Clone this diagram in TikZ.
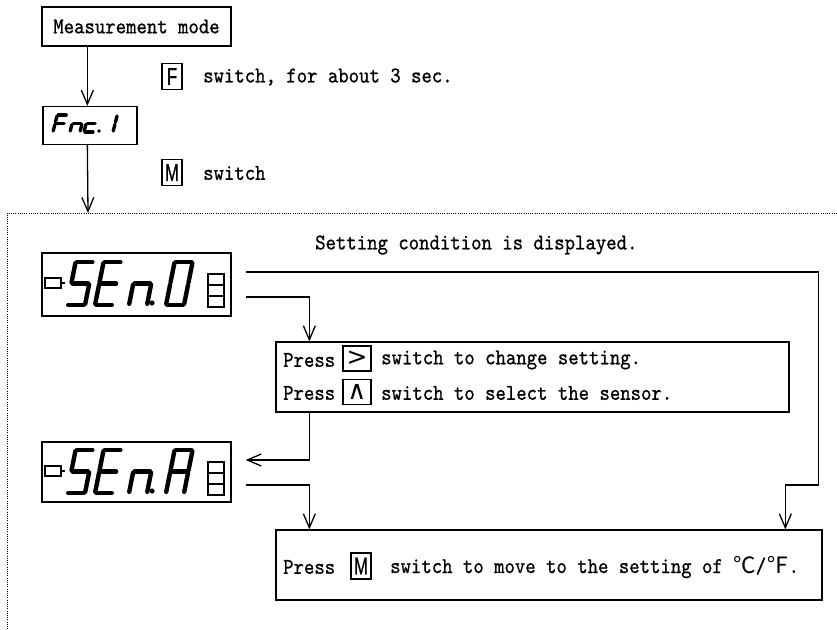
\documentclass[tikz,border=0pt]{standalone}
\usepackage{fontspec}
\usetikzlibrary{arrows.meta,calc}
\newfontfamily\txtfont{lmmono10-regular.otf}[FakeStretch=0.88, FakeBold=0.8]
\newfontfamily\keyfont{Liberation Sans}[FakeStretch=0.7, FakeBold=0.6]
\newfontfamily\symfont{DejaVu Sans}
\newfontfamily\cjkfont{Noto Sans CJK JP}

% seven-segment helpers: \dX,\dY = bottom-left corner, \dW,\dH = size,
% \dS = slant, \dG = gap at the segment joints
\def\dsega{\draw[segline] ({\dX+\dG+\dS*\dH},{\dY-\dH}) -- ({\dX+\dW-\dG+\dS*\dH},{\dY-\dH});}
\def\dsegb{\draw[segline] ({\dX+\dW+\dS*(\dH-\dG)},{\dY-\dH+\dG}) -- ({\dX+\dW+\dS*(\dH/2+\dG)},{\dY-\dH/2-\dG});}
\def\dsegc{\draw[segline] ({\dX+\dW+\dS*(\dH/2-\dG)},{\dY-\dH/2+\dG}) -- ({\dX+\dW+\dS*\dG},{\dY-\dG});}
\def\dsegd{\draw[segline] ({\dX+\dG},{\dY}) -- ({\dX+\dW-\dG},{\dY});}
\def\dsege{\draw[segline] ({\dX+\dS*\dG},{\dY-\dG}) -- ({\dX+\dS*(\dH/2-\dG)},{\dY-\dH/2+\dG});}
\def\dsegf{\draw[segline] ({\dX+\dS*(\dH/2+\dG)},{\dY-\dH/2-\dG}) -- ({\dX+\dS*(\dH-\dG)},{\dY-\dH+\dG});}
\def\dsegg{\draw[segline] ({\dX+\dG+\dS*\dH/2},{\dY-\dH/2}) -- ({\dX+\dW-\dG+\dS*\dH/2},{\dY-\dH/2});}
\newcommand\segdigit[2]{\def\dX{#1}\foreach \sg in {#2}{\csname dseg\sg\endcsname}}

\begin{document}
\begin{tikzpicture}[x=1pt,y=-1pt,
  txt/.style={font=\txtfont\fontsize{22.5}{26}\selectfont},
  box/.style={draw, line width=1.3pt, inner sep=0pt},
  lbl/.style={txt, anchor=west, inner sep=0pt},
  key/.style={draw, line width=1.2pt, inner sep=0pt, minimum width=20pt, minimum height=26pt},
  conn/.style={line width=1.3pt, -{Straight Barb[length=14pt,width=12pt]}},
  dotline/.style={line width=1pt, dash pattern=on 1pt off 1.2pt},
  segline/.style={line width=4.4pt, line cap=round},
  led/.style={draw, line width=1.1pt}]
\useasboundingbox (0,0) rectangle (837,629);

% dotted frame of the setting group
\draw[dotline] (837,213) -- (7,213) -- (7,629);
\coordinate (entry) at (88,213);

% boxes
\node[box, txt, minimum width=189pt, minimum height=39pt] (mm) at (136.5,26.5) {Measurement mode};
\node[box, minimum width=94pt, minimum height=38pt] (fnc) at (90,125.5) {};
\node[box, minimum width=189pt, minimum height=63pt] (sen0) at (136.5,284.5) {};
\node[box, minimum width=189pt, minimum height=60pt] (senA) at (136.5,472) {};
\node[box, minimum width=513pt, minimum height=70pt] (press1) at (532.5,377) {};
\node[box, minimum width=546pt, minimum height=70pt] (press2) at (549,565) {};

% key labels
\node[key] (kF) at (172,76.5) {\keyfont\fontsize{24}{24}\selectfont F};
\node[lbl] (tF) at (203,77) {switch, for about 3 sec.};
\node[key] (kM) at (172,172.5) {\keyfont\fontsize{24}{24}\selectfont M};
\node[lbl] (tM) at (203,173) {switch};

\node[lbl] (tset) at (315,245) {Setting condition is displayed.};

\node[lbl] (p1) at (283,360) {Press};
\node[key, minimum width=28pt, minimum height=25pt] (kR) at (357,358.5) {\symfont\fontsize{25}{25}\selectfont >};
\node[lbl] (p1t) at (381,360) {switch to change setting.};
\node[lbl] (p2) at (283,393) {Press};
\node[key, minimum width=28pt, minimum height=25pt] (kU) at (357,392) {\symfont\fontsize{26}{26}\selectfont ∧};
\node[lbl] (p2t) at (381,393) {switch to select the sensor.};

\node[lbl] (p3) at (283,567) {Press};
\node[key, minimum width=20pt, minimum height=26pt] (kM2) at (361,566) {\keyfont\fontsize{24}{24}\selectfont M};
\node[lbl] (p3t) at (390,567) {switch to move to the setting of {\cjkfont ℃}/{\cjkfont ℉}.};

% connectors
\draw[conn] ([xshift=46pt]mm.south west) -- ([xshift=45pt]fnc.north west);
\draw[conn] ([xshift=45pt]fnc.south west) -- (entry);
\draw[conn] ([xshift=14pt,yshift=12.5pt]sen0.east) -- ++(573,0) -- ++(0,213) -| ([xshift=510pt]press2.north west);
\draw[conn] ([xshift=14pt,yshift=-12.5pt]sen0.east) -| ([xshift=34pt]press1.north west);
\draw[conn] ([xshift=34pt]press1.south west) |- ([xshift=14pt,yshift=12pt]senA.east);
\draw[conn] ([xshift=14pt,yshift=-13pt]senA.east) -| ([xshift=34pt]press2.north west);

% Fnc.1 display
\begin{scope}[segline/.style={line width=3.3pt, line cap=round}]
  \def\dY{132}\def\dW{10}\def\dH{17}\def\dS{0.25}\def\dG{1}
  \segdigit{53}{a,f,g,e}
  \segdigit{70}{e,g,c}
  \segdigit{84}{g,e,d}
  \fill (99,131) circle (1.9pt);
  \segdigit{103}{b,c}
\end{scope}

% SEn.0 display
\draw[led] (45,278) rectangle (61,288);
\draw[line width=1.3pt] (61,283) -- (65,283);
\begin{scope}
  \def\dY{305}\def\dW{18}\def\dH{43}\def\dS{0.2}\def\dG{1.2}
  \segdigit{67}{a,f,g,c,d}
  \segdigit{95}{a,f,g,e,d}
  \segdigit{129}{e,g,c}
  \fill (152,303) circle (2.6pt);
  \segdigit{166}{a,b,c,d,e,f}
\end{scope}
\draw[led] (208,274) rectangle (224,285);
\draw[led] (208,285) rectangle (224,296);
\draw[led] (208,296) rectangle (224,307);

% SEn.A display
\draw[led] (45,466) rectangle (61,476);
\draw[line width=1.3pt] (61,471) -- (65,471);
\begin{scope}
  \def\dY{493}\def\dW{18}\def\dH{43}\def\dS{0.2}\def\dG{1.2}
  \segdigit{67}{a,f,g,c,d}
  \segdigit{95}{a,f,g,e,d}
  \segdigit{129}{e,g,c}
  \fill (152,491) circle (2.6pt);
  \segdigit{166}{a,b,c,e,f,g}
\end{scope}
\draw[led] (208,462) rectangle (224,473);
\draw[led] (208,473) rectangle (224,484);
\draw[led] (208,484) rectangle (224,495);
\end{tikzpicture}
\end{document}
